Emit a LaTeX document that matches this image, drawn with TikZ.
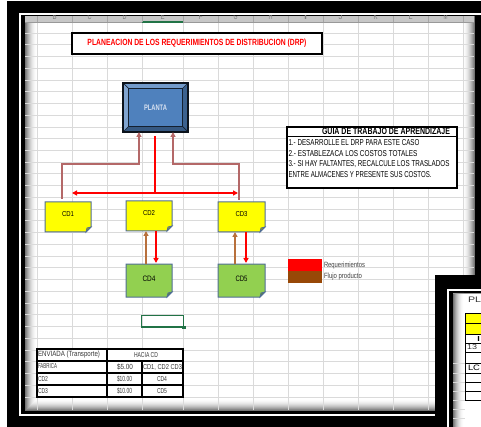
\documentclass[tikz,border=0pt]{standalone}
\usepackage{fontspec}
\setmainfont{Liberation Sans}
\newfontfamily\nar[FakeStretch=0.72]{Liberation Sans}
\usetikzlibrary{arrows.meta,calc}
\pgfdeclarelayer{back}
\pgfdeclarelayer{mid}
\pgfsetlayers{back,mid,main}
\definecolor{cdyel}{RGB}{255,255,0}
\definecolor{cdgrn}{RGB}{146,208,80}
\definecolor{cdbord}{RGB}{80,110,150}
\definecolor{plblue}{RGB}{79,129,189}
\definecolor{pltxt}{RGB}{215,225,240}
\definecolor{rosebr}{RGB}{180,104,104}
\definecolor{flowbr}{RGB}{184,112,60}
\definecolor{legbr}{RGB}{152,72,7}
\definecolor{gridc}{RGB}{218,218,218}
\definecolor{selgrn}{RGB}{33,115,70}
\definecolor{reqred}{RGB}{255,0,0}
\definecolor{tabtxt}{RGB}{55,55,55}
\newcommand\fitt[3]{\resizebox{#1pt}{#2pt}{#3}}
\newcommand\foldbox[3]{%
  \begin{pgfonlayer}{mid}
  \path[fill=#2, draw=cdbord, line width=1pt] (#1.north west) -- (#1.north east)
     -- ([yshift=#3pt]#1.south east) -- ([xshift=-#3pt]#1.south east) -- (#1.south west) -- cycle;
  \path[fill=#2!65!black, draw=cdbord, line width=0.8pt] ([yshift=#3pt]#1.south east)
     -- ([xshift=-#3pt]#1.south east) -- ([xshift=-0.8*#3pt,yshift=0.8*#3pt]#1.south east) -- cycle;
  \end{pgfonlayer}}
\begin{document}
\begin{tikzpicture}[x=1pt,y=-1pt,
  lbl/.style={inner sep=0pt, outer sep=0pt},
  cdbox/.style={minimum width=46pt, minimum height=30pt, inner sep=0pt, outer sep=0pt},
  reqline/.style={draw=reqred, color=reqred, line width=1.7pt},
  roseline/.style={draw=rosebr, color=rosebr, line width=1.5pt},
  flowline/.style={draw=flowbr, color=flowbr, line width=1.5pt},
  tip/.style={-{Triangle[length=5pt,width=5pt]}},
  tbl/.style={draw=black, line width=1.3pt},
  legbox/.style={minimum width=34pt, minimum height=12pt, inner sep=0pt, outer sep=0pt}
]
\useasboundingbox (0,0) rectangle (481,427);
% ---------------- background: screenshot frame and sheet
\begin{pgfonlayer}{back}
\fill[white] (0,0) rectangle (481,427);
\fill[black] (7,1) rectangle (481,427);
\draw[white, line width=2pt] (481,14.5) -- (19.5,14.5) -- (19.5,414.5) -- (435,414.5);
\fill[white] (25,16) rectangle (474.5,411);
\foreach \i in {0,...,11} {
  \pgfmathsetmacro\shd{55*(1-\i/12)^2}
  \draw[black!\shd, line width=1pt] ({25.5+\i},{16.5+0.2*\i}) rectangle ({474-\i},{410.5-\i});
}
\fill[black!22] (25,16) rectangle (474,22.5);
\begin{scope}
  \clip (25,16) rectangle (474,22.5);
  \foreach \cx/\cl in {54.5/B,89.5/C,124.5/D,162.5/E,200.5/F,235.5/G,270.5/H,305.5/I,340.5/J,375.5/K,410.5/L,445.5/M}
    \node[lbl, text=black!50] (col\cl) at (\cx,17) {\fitt{4}{6}{\cl}};
\end{scope}
\draw[black!40, line width=0.6pt] (25,22.5) -- (474,22.5);
\draw[selgrn, line width=1.3pt] (142,22) -- (183,22);
\foreach \x in {37,72,107,142,183,218,253,288,323,358,393,428,463} {
  \draw[gridc, line width=0.8pt] (\x,23) -- (\x,410);
  \draw[black!35, line width=0.6pt] (\x,16) -- (\x,22.5);
}
\foreach \k in {0,...,31}
  \draw[gridc, line width=0.8pt] (25,{33+11.74*\k}) -- (474,{33+11.74*\k});
\end{pgfonlayer}
% ---------------- title
\node[draw=black, line width=1.3pt, fill=white, minimum width=250pt, minimum height=21pt, inner sep=0pt]
  (title) at (197,43.5) {\textcolor{reqred}{\fitt{219}{6.5}{\nar\bfseries PLANEACION DE LOS REQUERIMIENTOS DE DISTRIBUCION (DRP)}}};
% ---------------- PLANTA bevel box
\node[minimum width=65pt, minimum height=49pt, inner sep=0pt, outer sep=0pt]
  (planta) at (155.5,107.5) {\textcolor{pltxt}{\fitt{23}{5.5}{\nar\bfseries PLANTA}}};
\coordinate (pi1) at ([shift={(5.5pt,-5.5pt)}]planta.north west);
\coordinate (pi2) at ([shift={(-5.5pt,-5.5pt)}]planta.north east);
\coordinate (pi3) at ([shift={(-5.5pt,5.5pt)}]planta.south east);
\coordinate (pi4) at ([shift={(5.5pt,5.5pt)}]planta.south west);
\begin{pgfonlayer}{mid}
\fill[plblue!80!white] (planta.north west) -- (planta.north east) -- (pi2) -- (pi1) -- cycle;
\fill[plblue!72!white] (planta.north west) -- (pi1) -- (pi4) -- (planta.south west) -- cycle;
\fill[plblue!68!black] (planta.south west) -- (pi4) -- (pi3) -- (planta.south east) -- cycle;
\fill[plblue!75!black] (planta.north east) -- (planta.south east) -- (pi3) -- (pi2) -- cycle;
\fill[plblue] (pi1) rectangle (pi3);
\draw[black!75!plblue, line width=0.7pt] (pi1) rectangle (pi3)
  (planta.north west) -- (pi1) (planta.north east) -- (pi2)
  (planta.south east) -- (pi3) (planta.south west) -- (pi4);
\draw[black!85!plblue, line width=1.3pt] (planta.north west) rectangle (planta.south east);
\end{pgfonlayer}
% ---------------- CD boxes
\node[cdbox] (cd1) at (68,217) {\raisebox{5pt}{\fitt{12}{5}{\nar CD1}}};
\node[cdbox] (cd2) at (149,216) {\raisebox{5pt}{\fitt{12}{5}{\nar CD2}}};
\node[cdbox, minimum width=47pt] (cd3) at (241.5,217) {\raisebox{5pt}{\fitt{12}{5}{\nar CD3}}};
\node[cdbox, minimum height=33pt] (cd4) at (149,280.5) {\raisebox{3pt}{\fitt{13}{5.5}{\nar CD4}}};
\node[cdbox, minimum width=47pt, minimum height=33pt] (cd5) at (241.5,280.5) {\raisebox{3pt}{\fitt{12}{5.5}{\nar CD5}}};
\foldbox{cd1}{cdyel}{5}
\foldbox{cd2}{cdyel}{5}
\foldbox{cd3}{cdyel}{5}
\foldbox{cd4}{cdgrn}{5}
\foldbox{cd5}{cdgrn}{5}
% ---------------- connectors
\coordinate (pm) at (155,136);
\coordinate (hm) at (155,193);
\coordinate (hl) at (72,193);
\coordinate (hr) at (238,193);
\coordinate (jl) at (139,164);
\coordinate (jr) at (173,164);
\draw[reqline] (pm) -- (hm);
\draw[reqline, {Triangle[length=5pt,width=5pt]}-{Triangle[length=5pt,width=5pt]}] (hl) -- (hr);
\draw[roseline, tip] ([xshift=-6pt,yshift=3pt]cd1.north) |- (jl) -- (jl |- planta.south);
\draw[roseline, tip] ([xshift=-2.5pt,yshift=2pt]cd3.north) |- (jr) -- (jr |- planta.south);
\draw[reqline, tip] ([xshift=7pt]cd2.south) -- ([xshift=7pt,yshift=1pt]cd4.north);
\draw[flowline, tip] ([xshift=-3pt]cd4.north) -- ([xshift=-3pt]cd2.south);
\draw[reqline, tip] ([xshift=4.5pt]cd3.south) -- ([xshift=4.5pt,yshift=1pt]cd5.north);
\draw[flowline, tip] ([xshift=-6.5pt]cd5.north) -- ([xshift=-6.5pt]cd3.south);
% ---------------- guide box
\node[draw=black, line width=1.3pt, fill=white, minimum width=170pt, minimum height=61pt, inner sep=0pt]
  (guide) at (372,157.5) {};
\draw[black, line width=1pt] (guide.west |- 0,137) -- (guide.east |- 0,137);
\node[lbl, anchor=west] (gt) at (322,131.5) {\fitt{128}{6.5}{\nar\bfseries GUIA DE TRABAJO DE APRENDIZAJE}};
\node[lbl, anchor=west] (g1) at (288.5,142.5) {\fitt{131}{6}{\nar 1.- DESARROLLE EL DRP PARA ESTE CASO}};
\node[lbl, anchor=west] (g2) at (288.5,153.5) {\fitt{129}{6}{\nar 2.- ESTABLEZACA LOS COSTOS TOTALES}};
\node[lbl, anchor=west] (g3) at (288.5,164) {\fitt{161}{6}{\nar 3.- SI HAY FALTANTES, RECALCULE LOS TRASLADOS}};
\node[lbl, anchor=west] (g4) at (288.5,175) {\fitt{143}{6}{\nar ENTRE ALMACENES Y PRESENTE SUS COSTOS.}};
% ---------------- legend
\node[legbox, fill=reqred] (legreq) at (305,265) {};
\node[legbox, fill=legbr] (legflu) at (305,277) {};
\node[lbl, anchor=west, text=black!75] (legreqt) at (324,266) {\fitt{41}{5.5}{\nar Requerimientos}};
\node[lbl, anchor=west, text=black!75] (legflut) at (324,277) {\fitt{38}{5.5}{\nar Flujo producto}};
% ---------------- selected cell
\draw[selgrn, line width=1.3pt] (141.5,315.5) rectangle (183.5,327);
\fill[selgrn] (182,325.5) rectangle (185.5,329);
% ---------------- cost table
\fill[white] (37,349) rectangle (183,397);
\draw[tbl] (37,349) rectangle (183,397);
\draw[tbl] (37,361) -- (183,361) (37,373) -- (183,373) (37,385) -- (183,385);
\draw[tbl] (107,349) -- (107,397) (142,361) -- (142,397);
\node[lbl, anchor=west, text=tabtxt] (t11) at (38,355) {\fitt{62}{5.5}{\nar ENVIADA (Transporte)}};
\node[lbl, text=tabtxt] (t12) at (146,355) {\fitt{24}{5}{\nar HACIA CD}};
\node[lbl, anchor=west, text=tabtxt] (t21) at (38,366.5) {\fitt{19}{5}{\nar FABRICA}};
\node[lbl, text=tabtxt] (t22) at (125,367) {\fitt{16}{5.5}{\nar \$5.00}};
\node[lbl, text=tabtxt] (t23) at (162.5,367) {\fitt{39}{5}{\nar CD1, CD2 CD3}};
\node[lbl, anchor=west, text=tabtxt] (t31) at (38,379) {\fitt{10}{5}{\nar CD2}};
\node[lbl, text=tabtxt] (t32) at (124.5,379) {\fitt{15}{5.5}{\nar \$10.00}};
\node[lbl, text=tabtxt] (t33) at (162,379) {\fitt{10}{5}{\nar CD4}};
\node[lbl, anchor=west, text=tabtxt] (t41) at (38,391) {\fitt{10}{5}{\nar CD3}};
\node[lbl, text=tabtxt] (t42) at (124.5,391) {\fitt{15}{5.5}{\nar \$10.00}};
\node[lbl, text=tabtxt] (t43) at (162,391) {\fitt{10}{5}{\nar CD5}};
% ---------------- second window (bottom right)
\fill[black] (435,275) rectangle (481,427);
\draw[white, line width=2pt] (481,290) -- (447.5,290) -- (447.5,427);
\fill[white] (453,292.5) rectangle (481,427);
\foreach \i in {0,...,10} {
  \pgfmathsetmacro\shd{55*(1-\i/11)^2}
  \draw[black!\shd, line width=1pt] ({453.5+\i},292.5) -- ({453.5+\i},427);
}
\draw[black!40, line width=1pt] (453,293) -- (481,293);
\foreach \yy in {363,373,382,391,400,409,418}
  \draw[gridc, line width=0.8pt] (453,\yy) -- (465,\yy);
\node[lbl, anchor=west, text=black!80] (w2pl) at (468,299.5) {\fitt{13}{5.5}{PL}};
\fill[cdyel] (465,313) rectangle (481,334);
\draw[black, line width=0.7pt] (465,313) -- (481,313) (465,323.5) -- (481,323.5) (465,334) -- (481,334)
  (465,343) -- (481,343) (465,352) -- (481,352);
\draw[black, line width=0.7pt] (465,363) -- (481,363) (465,373) -- (481,373) (465,382) -- (481,382)
  (465,391) -- (481,391) (465,400) -- (481,400);
\draw[black, line width=0.7pt] (465,313) -- (465,400);
\node[lbl, text=black] (w2i) at (478.5,338.5) {\fitt{2.5}{5}{\bfseries I}};
\node[lbl, anchor=west, text=black!80] (w2n) at (467,347) {\fitt{10}{5}{13}};
\node[lbl, anchor=west, text=black] (w2lc) at (468,368) {\fitt{12}{5.5}{LC}};
\end{tikzpicture}
\end{document}
